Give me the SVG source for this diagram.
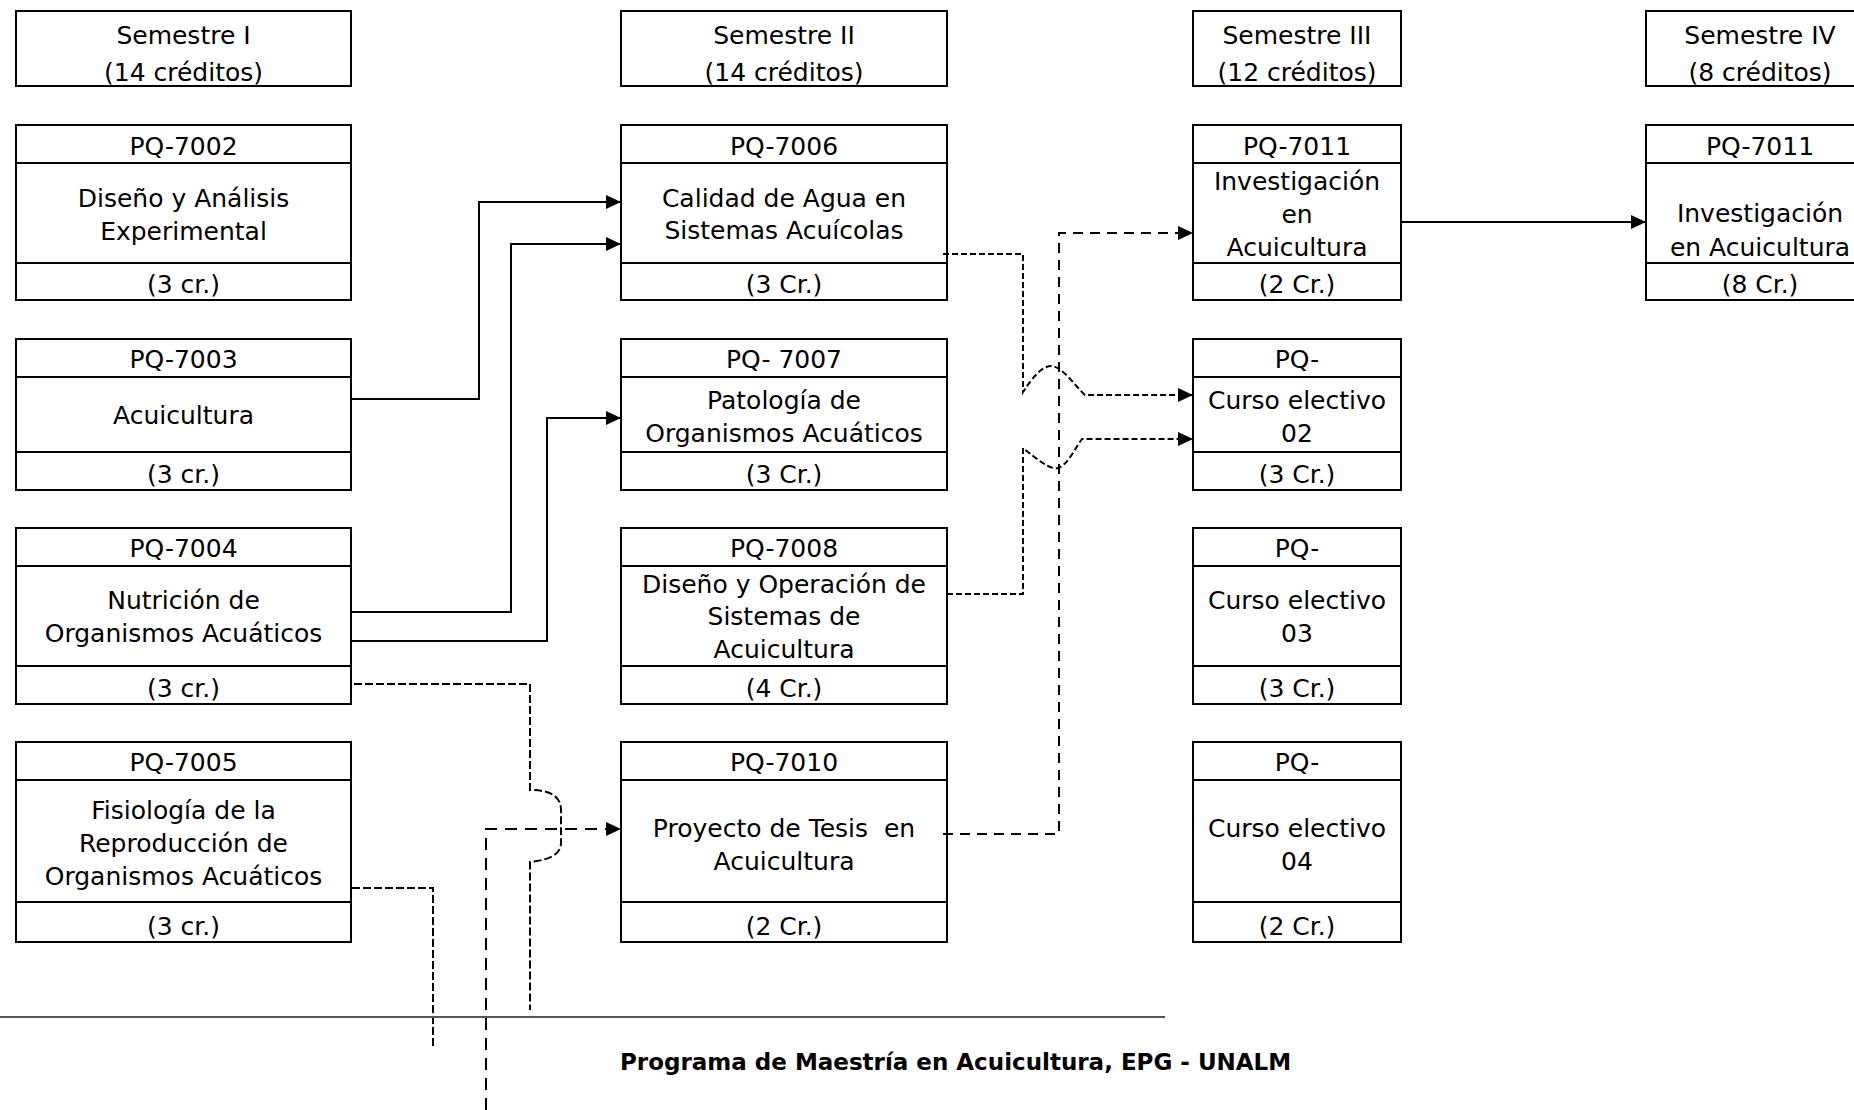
<svg xmlns="http://www.w3.org/2000/svg" width="1854" height="1110" viewBox="0 0 1854 1110">
<style>
  .box { fill: #fff; stroke: #000; stroke-width: 2; }
  .div { stroke: #000; stroke-width: 2; }
  .t { font-family: "DejaVu Sans", "Liberation Sans", sans-serif; font-size: 25px; fill: #000; text-anchor: middle; }
  .foot { font-family: "DejaVu Sans", "Liberation Sans", sans-serif; font-size: 23px; font-weight: bold; fill: #000; }
  .c { fill: none; stroke: #000; stroke-width: 2; }
  .d1 { stroke-dasharray: 6 3; }
  .d2 { stroke-dasharray: 8 3; }
  .d3 { stroke-dasharray: 10 7; }
  .d4 { stroke-dasharray: 12 8; }
</style>
<defs>
  <marker id="arr" markerUnits="userSpaceOnUse" markerWidth="15" markerHeight="14" refX="15" refY="7" orient="auto">
    <path d="M0,0 L15,7 L0,14 Z" fill="#000"/>
  </marker>
</defs>
<rect width="1854" height="1110" fill="#fff"/>

<!-- Semester headers -->
<g id="sem1"><rect class="box" x="16" y="11" width="335" height="75"/><text class="t" x="183.5" y="44">Semestre I</text><text class="t" x="183.5" y="81">(14 créditos)</text></g>
<g id="sem2"><rect class="box" x="621" y="11" width="326" height="75"/><text class="t" x="784" y="44">Semestre II</text><text class="t" x="784" y="81">(14 créditos)</text></g>
<g id="sem3"><rect class="box" x="1193" y="11" width="208" height="75"/><text class="t" x="1297" y="44">Semestre III</text><text class="t" x="1297" y="81">(12 créditos)</text></g>
<g id="sem4"><rect class="box" x="1646" y="11" width="226" height="75"/><text class="t" x="1760" y="44">Semestre IV</text><text class="t" x="1760" y="81">(8 créditos)</text></g>

<!-- Column 1 -->
<g id="pq7002"><rect class="box" x="16" y="125" width="335" height="175"/><line class="div" x1="16" y1="163" x2="351" y2="163"/><line class="div" x1="16" y1="263" x2="351" y2="263"/>
  <text class="t" x="183.5" y="155">PQ-7002</text><text class="t" x="183.5" y="207">Diseño y Análisis</text><text class="t" x="183.5" y="240">Experimental</text><text class="t" x="183.5" y="293">(3 cr.)</text></g>
<g id="pq7003"><rect class="box" x="16" y="339" width="335" height="151"/><line class="div" x1="16" y1="377" x2="351" y2="377"/><line class="div" x1="16" y1="452" x2="351" y2="452"/>
  <text class="t" x="183.5" y="368">PQ-7003</text><text class="t" x="183.5" y="424">Acuicultura</text><text class="t" x="183.5" y="483">(3 cr.)</text></g>
<g id="pq7004"><rect class="box" x="16" y="528" width="335" height="176"/><line class="div" x1="16" y1="566" x2="351" y2="566"/><line class="div" x1="16" y1="666" x2="351" y2="666"/>
  <text class="t" x="183.5" y="557">PQ-7004</text><text class="t" x="183.5" y="609">Nutrición de</text><text class="t" x="183.5" y="642">Organismos Acuáticos</text><text class="t" x="183.5" y="697">(3 cr.)</text></g>
<g id="pq7005"><rect class="box" x="16" y="742" width="335" height="200"/><line class="div" x1="16" y1="780" x2="351" y2="780"/><line class="div" x1="16" y1="902" x2="351" y2="902"/>
  <text class="t" x="183.5" y="771">PQ-7005</text><text class="t" x="183.5" y="819">Fisiología de la</text><text class="t" x="183.5" y="852">Reproducción de</text><text class="t" x="183.5" y="885">Organismos Acuáticos</text><text class="t" x="183.5" y="935">(3 cr.)</text></g>

<!-- Column 2 -->
<g id="pq7006"><rect class="box" x="621" y="125" width="326" height="175"/><line class="div" x1="621" y1="163" x2="947" y2="163"/><line class="div" x1="621" y1="263" x2="947" y2="263"/>
  <text class="t" x="784" y="155">PQ-7006</text><text class="t" x="784" y="207">Calidad de Agua en</text><text class="t" x="784" y="239">Sistemas Acuícolas</text><text class="t" x="784" y="293">(3 Cr.)</text></g>
<g id="pq7007"><rect class="box" x="621" y="339" width="326" height="151"/><line class="div" x1="621" y1="377" x2="947" y2="377"/><line class="div" x1="621" y1="452" x2="947" y2="452"/>
  <text class="t" x="784" y="368">PQ- 7007</text><text class="t" x="784" y="409">Patología de</text><text class="t" x="784" y="442">Organismos Acuáticos</text><text class="t" x="784" y="483">(3 Cr.)</text></g>
<g id="pq7008"><rect class="box" x="621" y="528" width="326" height="176"/><line class="div" x1="621" y1="566" x2="947" y2="566"/><line class="div" x1="621" y1="666" x2="947" y2="666"/>
  <text class="t" x="784" y="557">PQ-7008</text><text class="t" x="784" y="593">Diseño y Operación de</text><text class="t" x="784" y="625">Sistemas de</text><text class="t" x="784" y="658">Acuicultura</text><text class="t" x="784" y="697">(4 Cr.)</text></g>
<g id="pq7010"><rect class="box" x="621" y="742" width="326" height="200"/><line class="div" x1="621" y1="780" x2="947" y2="780"/><line class="div" x1="621" y1="902" x2="947" y2="902"/>
  <text class="t" x="784" y="771">PQ-7010</text><text class="t" x="784" y="837" xml:space="preserve">Proyecto de Tesis  en</text><text class="t" x="784" y="870">Acuicultura</text><text class="t" x="784" y="935">(2 Cr.)</text></g>

<!-- Column 3 -->
<g id="pq7011a"><rect class="box" x="1193" y="125" width="208" height="175"/><line class="div" x1="1193" y1="163" x2="1401" y2="163"/><line class="div" x1="1193" y1="263" x2="1401" y2="263"/>
  <text class="t" x="1297" y="155">PQ-7011</text><text class="t" x="1297" y="190">Investigación</text><text class="t" x="1297" y="223">en</text><text class="t" x="1297" y="256">Acuicultura</text><text class="t" x="1297" y="293">(2 Cr.)</text></g>
<g id="elec02"><rect class="box" x="1193" y="339" width="208" height="151"/><line class="div" x1="1193" y1="377" x2="1401" y2="377"/><line class="div" x1="1193" y1="452" x2="1401" y2="452"/>
  <text class="t" x="1297" y="368">PQ-</text><text class="t" x="1297" y="409">Curso electivo</text><text class="t" x="1297" y="442">02</text><text class="t" x="1297" y="483">(3 Cr.)</text></g>
<g id="elec03"><rect class="box" x="1193" y="528" width="208" height="176"/><line class="div" x1="1193" y1="566" x2="1401" y2="566"/><line class="div" x1="1193" y1="666" x2="1401" y2="666"/>
  <text class="t" x="1297" y="557">PQ-</text><text class="t" x="1297" y="609">Curso electivo</text><text class="t" x="1297" y="642">03</text><text class="t" x="1297" y="697">(3 Cr.)</text></g>
<g id="elec04"><rect class="box" x="1193" y="742" width="208" height="200"/><line class="div" x1="1193" y1="780" x2="1401" y2="780"/><line class="div" x1="1193" y1="902" x2="1401" y2="902"/>
  <text class="t" x="1297" y="771">PQ-</text><text class="t" x="1297" y="837">Curso electivo</text><text class="t" x="1297" y="870">04</text><text class="t" x="1297" y="935">(2 Cr.)</text></g>

<!-- Column 4 -->
<g id="pq7011b"><rect class="box" x="1646" y="125" width="226" height="175"/><line class="div" x1="1646" y1="163" x2="1872" y2="163"/><line class="div" x1="1646" y1="263" x2="1872" y2="263"/>
  <text class="t" x="1760" y="155">PQ-7011</text><text class="t" x="1760" y="222">Investigación</text><text class="t" x="1760" y="256">en Acuicultura</text><text class="t" x="1760" y="293">(8 Cr.)</text></g>

<!-- Connectors -->
<g id="connectors">
  <path class="c" d="M351,399 H479 V202 H621" marker-end="url(#arr)"/>
  <path class="c" d="M351,612 H511 V244 H621" marker-end="url(#arr)"/>
  <path class="c" d="M351,641 H547 V418 H621" marker-end="url(#arr)"/>
  <path class="c" d="M1401,222 H1646" marker-end="url(#arr)"/>
  <path class="c d1" d="M943,254 H1023 V392 C1032,378 1042,366 1051,366 C1062,366 1075,386 1085,395 H1193" marker-end="url(#arr)"/>
  <path class="c d1" d="M947,594 H1023 V448 C1038,460 1050,470 1058,468 C1068,465 1075,448 1082,439 H1193" marker-end="url(#arr)"/>
  <path class="c d3" d="M943,834 H1059 V233 H1193" marker-end="url(#arr)"/>
  <path class="c d2" d="M354,684 H530 V790 C548,790 561,795 561,810 V843 C561,855 548,860 530,862 V1010"/>
  <path class="c d2" d="M352,888 H433 V1046"/>
  <path class="c d4" d="M486,1110 V829 H621" marker-end="url(#arr)"/>
</g>

<!-- Footer -->
<line x1="0" y1="1017" x2="1165" y2="1017" stroke="#555" stroke-width="2"/>
<text class="foot" x="620" y="1070">Programa de Maestría en Acuicultura, EPG - UNALM</text>
</svg>
